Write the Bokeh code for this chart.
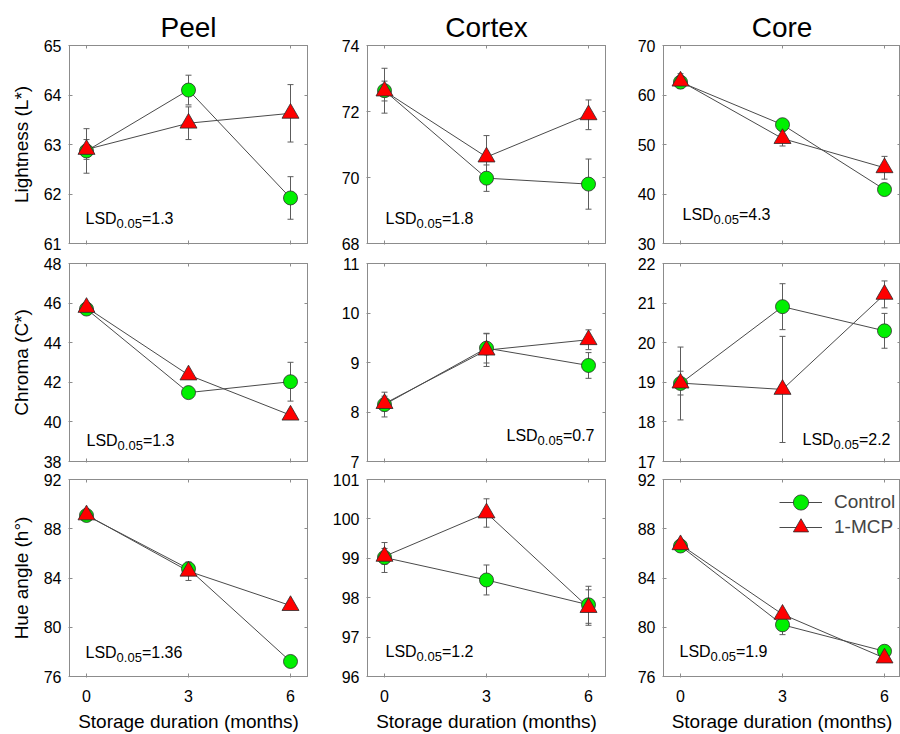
import math
from bokeh.plotting import figure
from bokeh.models import (ColumnDataSource, Whisker, TeeHead, Label, LinearAxis,
                          FixedTicker, Range1d, Legend, LegendItem, Title)
from bokeh.layouts import column, row
from bokeh.embed import file_html
from bokeh.resources import INLINE

# ---------------- data ----------------
months = [0, 3, 6]
tissues = ["Peel", "Cortex", "Core"]
series_names = ["Control", "1-MCP"]

# Lightness (L*)
peel_L_control = [62.87, 64.10, 61.92]
peel_L_control_se = [0.45, 0.30, 0.43]
peel_L_mcp = [62.90, 63.43, 63.63]
peel_L_mcp_se = [0.20, 0.33, 0.58]

cortex_L_control = [72.63, 69.98, 69.80]
cortex_L_control_se = [0.68, 0.40, 0.76]
cortex_L_mcp = [72.62, 70.62, 71.90]
cortex_L_mcp_se = [0.30, 0.65, 0.45]

core_L_control = [62.6, 54.0, 40.9]
core_L_control_se = [0.8, 0.6, 0.8]
core_L_mcp = [62.8, 51.2, 45.3]
core_L_mcp_se = [1.5, 1.5, 2.3]

# Chroma (C*)
peel_C_control = [45.70, 41.48, 42.03]
peel_C_control_se = [0.25, 0.20, 0.98]
peel_C_mcp = [45.78, 42.37, 40.34]
peel_C_mcp_se = [0.20, 0.15, 0.20]

cortex_C_control = [8.15, 9.29, 8.94]
cortex_C_control_se = [0.25, 0.30, 0.26]
cortex_C_mcp = [8.17, 9.25, 9.46]
cortex_C_mcp_se = [0.15, 0.33, 0.20]

core_C_control = [18.97, 20.91, 20.30]
core_C_control_se = [0.92, 0.58, 0.44]
core_C_mcp = [18.98, 18.82, 21.22]
core_C_mcp_se = [0.30, 1.34, 0.34]

# Hue angle (h°)
peel_H_control = [89.08, 84.75, 77.22]
peel_H_control_se = [0.30, 0.30, 0.30]
peel_H_mcp = [89.12, 84.55, 81.76]
peel_H_mcp_se = [0.30, 0.75, 0.30]

cortex_H_control = [99.02, 98.45, 97.82]
cortex_H_control_se = [0.38, 0.38, 0.47]
cortex_H_mcp = [99.05, 100.15, 97.75]
cortex_H_mcp_se = [0.20, 0.36, 0.45]

core_H_control = [86.6, 80.2, 78.05]
core_H_control_se = [0.30, 0.80, 0.30]
core_H_mcp = [86.7, 81.05, 77.5]
core_H_mcp_se = [0.30, 0.30, 0.30]

# axes
L_ranges = [(61, 65), (68, 74), (30, 70)]
L_ticks = [[61, 62, 63, 64, 65], [68, 70, 72, 74], [30, 40, 50, 60, 70]]
C_ranges = [(38, 48), (7, 11), (17, 22)]
C_ticks = [[38, 40, 42, 44, 46, 48], [7, 8, 9, 10, 11], [17, 18, 19, 20, 21, 22]]
H_ranges = [(76, 92), (96, 101), (76, 92)]
H_ticks = [[76, 80, 84, 88, 92], [96, 97, 98, 99, 100, 101], [76, 80, 84, 88, 92]]
x_ticks = [0, 3, 6]

lsd_L = ["1.3", "1.8", "4.3"]
lsd_C = ["1.3", "0.7", "2.2"]
lsd_H = ["1.36", "1.2", "1.9"]

x_title = "Storage duration (months)"
y_titles = ["Lightness (L*)", "Chroma (C*)", "Hue angle (h°)"]

# ---------------- style ----------------
FONT = "Liberation Sans"
GRAY = "#8c8c8c"
LINE = "#4a4a4a"
ERR = "#5c5c5c"
GREEN = "#00F000"
RED = "#FF0000"
EDGE = "#2b2b2b"

FH = 198
COL_FW = [238, 238, 237]
COL_L = [69, 59, 57]
COL_R = [1, 1, 0]
ROW_T = [45, 10, 10]
ROW_B = [10, 8, 57]
PX_PER_MONTH = 34

# Arial / Liberation Sans advance widths (em)
WID = {' ': .278, '(': .333, ')': .333, '*': .389, '.': .278, '=': .584, '-': .333,
       'C': .722, 'D': .722, 'L': .556, 'M': .833, 'P': .667, 'S': .667,
       'l': .222, 'o': .556, 'n': .556, 't': .278, 'r': .333}


def tw(s, size):
    return sum(WID.get(ch, .556) for ch in s) * size


def style_axis(ax, ticks, labels, standoff, tick_out=1):
    ax.ticker = FixedTicker(ticks=ticks, minor_ticks=[])
    ax.axis_line_color = GRAY
    ax.major_tick_line_color = GRAY
    ax.minor_tick_line_color = None
    ax.major_tick_in = 3
    ax.major_tick_out = tick_out
    ax.major_label_text_font = FONT
    ax.major_label_standoff = standoff
    if labels:
        ax.major_label_text_color = "black"
        ax.major_label_text_font_size = "16px"
    else:
        ax.major_label_text_color = None
        ax.major_label_text_font_size = "1px"


def add_label(p, x, y, text, size, align="left"):
    p.add_layout(Label(x=x, y=y, x_units="screen", y_units="screen", text=text,
                       text_font=FONT, text_font_size=f"{size}px", text_font_style="normal",
                       text_color="black", text_align=align, text_baseline="alphabetic"))


def add_lsd(p, x, y, val, align):
    y = y + 5
    w1, w2, w3 = tw("LSD", 16), tw("0.05", 13), tw("=" + val, 16)
    x0 = x - (w1 + w2 + w3) if align == "right" else x
    add_label(p, x0, y, "LSD", 16)
    add_label(p, x0 + w1, y - 5, "0.05", 13)
    add_label(p, x0 + w1 + w2, y, "=" + val, 16)


def panel(r, c, ctrl, ctrl_se, mcp, mcp_se, yr, yt, lsd, lsd_pos, legend=False):
    FW = COL_FW[c]
    p = figure(width=COL_L[c] + FW + COL_R[c], height=ROW_T[r] + FH + ROW_B[r],
               x_range=Range1d(-0.5, -0.5 + FW / PX_PER_MONTH), y_range=Range1d(*yr),
               output_backend="svg", toolbar_location=None, title=None,
               min_border_left=COL_L[c], min_border_right=COL_R[c],
               min_border_top=ROW_T[r], min_border_bottom=ROW_B[r])
    p.xgrid.visible = False
    p.ygrid.visible = False
    p.outline_line_color = GRAY
    p.background_fill_color = "white"
    p.border_fill_color = "white"

    left = p.left[0]
    style_axis(left, yt, True, 7)
    if c == 0:
        left.axis_label = y_titles[r]
        left.axis_label_text_font = FONT
        left.axis_label_text_font_size = "19px"
        left.axis_label_text_font_style = "normal"
        left.axis_label_text_color = "black"
        left.axis_label_standoff = 9
    bottom = p.below[0]
    style_axis(bottom, x_ticks, r == 2, 12 if r == 2 else 0)
    if r == 2:
        bottom.axis_label = x_title
        bottom.axis_label_text_font = FONT
        bottom.axis_label_text_font_size = "19px"
        bottom.axis_label_text_font_style = "normal"
        bottom.axis_label_text_color = "black"
        bottom.axis_label_text_line_height = 1.0
        bottom.major_label_text_line_height = 1.0
        bottom.axis_label_standoff = 6
    right = LinearAxis()
    style_axis(right, yt, False, 0, tick_out=0)
    p.add_layout(right, "right")
    top = LinearAxis()
    style_axis(top, x_ticks, False, 0, tick_out=0)
    p.add_layout(top, "above")
    if r == 0:
        p.add_layout(Title(text=tissues[c], align="center", text_font=FONT,
                           text_font_size="28px", text_font_style="normal",
                           text_color="black", standoff=5), "above")

    for vals, se in ((ctrl, ctrl_se), (mcp, mcp_se)):
        src = ColumnDataSource(dict(x=months, lo=[v - e for v, e in zip(vals, se)],
                                    hi=[v + e for v, e in zip(vals, se)]))
        p.add_layout(Whisker(source=src, base="x", lower="lo", upper="hi", dimension="height",
                             line_color=ERR, line_width=1, level="underlay",
                             upper_head=TeeHead(size=6, line_color=ERR, line_width=1),
                             lower_head=TeeHead(size=6, line_color=ERR, line_width=1)))
    lc = p.line(months, ctrl, line_color=LINE, line_width=1)
    lm = p.line(months, mcp, line_color=LINE, line_width=1)
    sc = p.scatter(months, ctrl, marker="circle", size=14, fill_color=GREEN,
                   line_color=EDGE, line_width=0.8)
    sm = p.scatter(months, mcp, marker="triangle", size=17, fill_color=RED,
                   line_color=EDGE, line_width=0.8)

    add_lsd(p, lsd_pos[0], lsd_pos[1], lsd, lsd_pos[2])
    if legend:
        # two single-item legends so the rows sit closer than the glyph height
        for i, (label, rends) in enumerate(((series_names[0], [lc, sc]),
                                            (series_names[1], [lm, sm]))):
            top_gap = -3 + 25 * i
            lg = Legend(items=[LegendItem(label=label, renderers=rends)],
                        location=(116, FH - top_gap - 46), glyph_width=43, glyph_height=38,
                        padding=4, margin=0, label_standoff=12,
                        label_text_font=FONT, label_text_font_size="19px",
                        border_line_color=None, background_fill_alpha=0)
            p.add_layout(lg)
    return p


rows = [
    [panel(0, 0, peel_L_control, peel_L_control_se, peel_L_mcp, peel_L_mcp_se,
           L_ranges[0], L_ticks[0], lsd_L[0], (16, 20, "left")),
     panel(0, 1, cortex_L_control, cortex_L_control_se, cortex_L_mcp, cortex_L_mcp_se,
           L_ranges[1], L_ticks[1], lsd_L[1], (18, 20, "left")),
     panel(0, 2, core_L_control, core_L_control_se, core_L_mcp, core_L_mcp_se,
           L_ranges[2], L_ticks[2], lsd_L[2], (19, 24, "left"))],
    [panel(1, 0, peel_C_control, peel_C_control_se, peel_C_mcp, peel_C_mcp_se,
           C_ranges[0], C_ticks[0], lsd_C[0], (17, 16, "left")),
     panel(1, 1, cortex_C_control, cortex_C_control_se, cortex_C_mcp, cortex_C_mcp_se,
           C_ranges[1], C_ticks[1], lsd_C[1], (COL_FW[1] - 11, 21, "right")),
     panel(1, 2, core_C_control, core_C_control_se, core_C_mcp, core_C_mcp_se,
           C_ranges[2], C_ticks[2], lsd_C[2], (COL_FW[2] - 10, 17, "right"))],
    [panel(2, 0, peel_H_control, peel_H_control_se, peel_H_mcp, peel_H_mcp_se,
           H_ranges[0], H_ticks[0], lsd_H[0], (16, 19, "left")),
     panel(2, 1, cortex_H_control, cortex_H_control_se, cortex_H_mcp, cortex_H_mcp_se,
           H_ranges[1], H_ticks[1], lsd_H[1], (18, 20, "left")),
     panel(2, 2, core_H_control, core_H_control_se, core_H_mcp, core_H_mcp_se,
           H_ranges[2], H_ticks[2], lsd_H[2], (16, 20, "left"), legend=True)],
]

layout = column(*[row(*rw) for rw in rows])
open("out.html", "w").write(file_html(layout, INLINE))
